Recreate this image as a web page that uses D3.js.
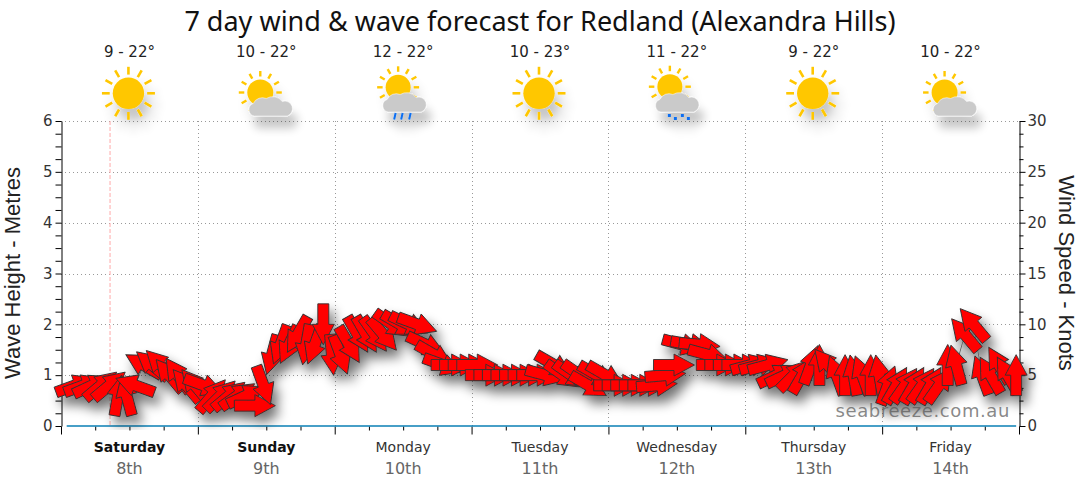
<!DOCTYPE html>
<html>
<head>
<meta charset="utf-8">
<script src="https://cdn.jsdelivr.net/npm/d3@7"></script>
<style>
  html, body { margin: 0; padding: 0; background: #fff; }
  svg { display: block; }
</style>
</head>
<body>
<svg id="chart"></svg>
<script>
// Labels
const dayNames = ["Saturday", "Sunday", "Monday", "Tuesday", "Wednesday", "Thursday", "Friday"];
const dayDates = ["8th", "9th", "10th", "11th", "12th", "13th", "14th"];
const boldDays = ["Saturday", "Sunday"];
const tempLabels = ["9 - 22°", "10 - 22°", "12 - 22°", "10 - 23°", "11 - 22°", "9 - 22°", "10 - 22°"];
const dayIcons = ["sun", "partly", "rain", "sun", "showers", "sun", "partly"];

// Wind speed (knots) and the way each arrow points (degrees clockwise from north)
const windSpeed = [
  4, 4, 4, 4, 4, 3, 3, 4, 6, 6, 6, 5, 5, 4, 4,
  4, 3, 3, 3, 3, 3, 2, 4, 7, 8, 8, 9, 8, 8, 10,
  7, 7, 8, 9, 9, 9, 9, 10, 10, 10, 10, 8, 7, 6, 6,
  6, 6, 6, 5, 5, 5, 5, 5, 5, 5, 5, 6, 5, 5, 5,
  4, 5, 5, 4, 4, 4, 4, 4, 4, 5, 6, 8, 8, 8, 7,
  6, 6, 6, 6, 6, 6, 6, 5, 5, 5, 5, 6, 6, 6, 5,
  5, 5, 5, 5, 5, 4, 4, 4, 4, 4, 4, 4, 6, 6, 9,
  10, 5, 5, 6, 5, 5
];
const windDir = [
  70, 70, 65, 50, 50, 10, 345, 290, 300, 310, 315, 320, 325, 320, 320,
  110, 40, 45, 50, 55, 65, 90, 160, 195, 200, 205, 210, 190, 200, 180,
  175, 160, 150, 150, 150, 145, 140, 125, 120, 115, 110, 115, 120, 110, 90,
  90, 90, 90, 90, 90, 90, 90, 90, 90, 90, 105, 120, 125, 125, 125,
  120, 120, 120, 90, 90, 90, 90, 90, 85, 85, 90, 105, 100, 95, 105,
  90, 90, 90, 90, 75, 75, 75, 65, 65, 45, 30, 20, 0, 320, 340,
  0, 350, 340, 0, 350, 20, 30, 35, 30, 35, 30, 35, 0, 345, 320,
  320, 340, 330, 330, 330, 0
];
// Wave height (metres), one more reading than the wind at the start
const waveHeight = [
  0, 0, 0, 0, 0, 0, 0, 0, 0, 0, 0, 0, 0, 0, 0, 0,
  0, 0, 0, 0, 0, 0, 0, 0, 0, 0, 0, 0, 0, 0, 0, 0,
  0, 0, 0, 0, 0, 0, 0, 0, 0, 0, 0, 0, 0, 0, 0, 0,
  0, 0, 0, 0, 0, 0, 0, 0, 0, 0, 0, 0, 0, 0, 0, 0,
  0, 0, 0, 0, 0, 0, 0, 0, 0, 0, 0, 0, 0, 0, 0, 0,
  0, 0, 0, 0, 0, 0, 0, 0, 0, 0, 0, 0, 0, 0, 0, 0,
  0, 0, 0, 0, 0, 0, 0, 0, 0, 0, 0, 0, 0, 0, 0, 0
];
const forecastHours = d3.range(1, 168, 1.5);
const nowHour = 8.6;

// Chart Dimensions
const Width = 1080;
const Height = 490;
const Left = 61;
const Right = 1019;
const Top = 121;
const Bottom = 426;
const DayHours = 24;

const svg = d3.select("#chart").attr("width", Width).attr("height", Height);

const xScale = d3.scaleLinear().domain([0, 168]).range([Left, Right]);
const waveScale = d3.scaleLinear().domain([0, 6]).range([Bottom, Top]);
const windScale = d3.scaleLinear().domain([0, 30]).range([Bottom, Top]);

// Shadows
const defs = svg.append("defs");
const arrowShadow = defs.append("filter").attr("id", "arrowShadow")
  .attr("filterUnits", "userSpaceOnUse")
  .attr("x", 0).attr("y", 280).attr("width", Width).attr("height", 150);
arrowShadow.append("feGaussianBlur").attr("in", "SourceAlpha").attr("stdDeviation", 6);
arrowShadow.append("feOffset").attr("dx", 5).attr("dy", 8).attr("result", "off");
arrowShadow.append("feComponentTransfer").append("feFuncA").attr("type", "linear").attr("slope", 0.55);
const arrowMerge = arrowShadow.append("feMerge");
arrowMerge.append("feMergeNode");
arrowMerge.append("feMergeNode").attr("in", "SourceGraphic");

const iconShadow = defs.append("filter").attr("id", "iconShadow")
  .attr("x", "-30%").attr("y", "-30%").attr("width", "170%").attr("height", "190%");
iconShadow.append("feGaussianBlur").attr("in", "SourceAlpha").attr("stdDeviation", 5);
iconShadow.append("feOffset").attr("dx", 5).attr("dy", 12);
iconShadow.append("feComponentTransfer").append("feFuncA").attr("type", "linear").attr("slope", 0.22);
const iconMerge = iconShadow.append("feMerge");
iconMerge.append("feMergeNode");
iconMerge.append("feMergeNode").attr("in", "SourceGraphic");

// Grid
const dayTicks = d3.range(0, 169, DayHours);
const grid = svg.append("g").attr("stroke", "#999").attr("stroke-dasharray", "1,3").attr("stroke-width", 1);
grid.selectAll(".h").data(d3.range(1, 7)).enter().append("line")
  .attr("x1", Left).attr("x2", Right)
  .attr("y1", d => Math.round(waveScale(d)) + 0.5).attr("y2", d => Math.round(waveScale(d)) + 0.5);
grid.selectAll(".v").data(dayTicks.slice(1, -1)).enter().append("line")
  .attr("x1", d => Math.round(xScale(d)) + 0.5).attr("x2", d => Math.round(xScale(d)) + 0.5)
  .attr("y1", Top).attr("y2", Bottom);

// Current time marker
svg.append("line")
  .attr("x1", xScale(nowHour)).attr("x2", xScale(nowHour))
  .attr("y1", Top).attr("y2", Bottom)
  .attr("stroke", "#ffaaaa").attr("stroke-dasharray", "4,2");

// Axes
function styleAxis(g) {
  g.select(".domain").attr("stroke", "#000");
  g.selectAll("line").attr("stroke", "#000");
  g.selectAll("text").attr("fill", "#333").style("font-family", "'DejaVu Sans'").style("font-size", "15px");
}
const leftAxis = svg.append("g").attr("transform", `translate(${Left + 0.5},0)`)
  .call(d3.axisLeft(waveScale).tickValues(d3.range(0, 6.01, 0.25)).tickSize(6).tickSizeOuter(0)
    .tickFormat(d => Number.isInteger(d) ? d : ""))
  .call(styleAxis);
leftAxis.selectAll("text").attr("x", -9);

const rightAxis = svg.append("g").attr("transform", `translate(${Right + 0.5},0)`)
  .call(d3.axisRight(windScale).tickValues(d3.range(0, 30.01, 1.25)).tickSize(4).tickSizeOuter(0)
    .tickFormat(d => d % 5 === 0 ? d : ""))
  .call(styleAxis);
rightAxis.selectAll(".tick").filter(d => d % 5 === 0).select("line").attr("x2", 6);
rightAxis.selectAll("text").attr("x", 8);

const bottomAxis = svg.append("g").attr("transform", `translate(0,${Bottom + 0.5})`)
  .call(d3.axisBottom(xScale).tickValues(d3.range(0, 169, 6)).tickSize(4).tickSizeOuter(0).tickFormat(""))
  .call(styleAxis);
bottomAxis.select(".domain").attr("stroke", "none");
bottomAxis.selectAll(".tick").filter(d => d % DayHours === 0).select("line").attr("y2", 8);

// Day labels
const dayCentres = dayNames.map((d, i) => xScale(DayHours * i + DayHours / 2));
svg.selectAll(".dayName").data(dayNames).enter().append("text")
  .attr("x", (d, i) => dayCentres[i]).attr("y", 452)
  .attr("text-anchor", "middle")
  .style("font-family", "'DejaVu Sans'").style("font-size", "14px")
  .style("font-weight", d => boldDays.includes(d) ? "bold" : "normal")
  .attr("fill", d => boldDays.includes(d) ? "#111" : "#333")
  .text(d => d);
svg.selectAll(".dayDate").data(dayDates).enter().append("text")
  .attr("x", (d, i) => dayCentres[i]).attr("y", 474)
  .attr("text-anchor", "middle")
  .style("font-family", "'DejaVu Sans'").style("font-size", "16px")
  .attr("fill", "#666")
  .text(d => d);

// Titles
svg.append("text").attr("x", 540).attr("y", 31).attr("text-anchor", "middle")
  .style("font-family", "'Noto Sans'").style("font-size", "27px").attr("fill", "#111")
  .text("7 day wind & wave forecast for Redland (Alexandra Hills)");
svg.append("text").attr("transform", "translate(20,273) rotate(-90)").attr("text-anchor", "middle")
  .style("font-family", "'Liberation Sans'").style("font-size", "22px").attr("fill", "#222")
  .text("Wave Height - Metres");
svg.append("text").attr("transform", "translate(1059,273) rotate(90)").attr("text-anchor", "middle")
  .style("font-family", "'Liberation Sans'").style("font-size", "22px").attr("fill", "#222")
  .text("Wind Speed - Knots");

// Temperatures
svg.selectAll(".temp").data(tempLabels).enter().append("text")
  .attr("x", (d, i) => dayCentres[i]).attr("y", 57).attr("text-anchor", "middle")
  .style("font-family", "'DejaVu Sans'").style("font-size", "15px").attr("fill", "#222")
  .text(d => d);

// Weather icons
function drawSun(g, cx, cy, r, longRay, shortRay) {
  const rays = d3.range(0, 360, 30);
  g.selectAll(null).data(rays).enter().append("line")
    .attr("x1", d => cx + (r + 3) * Math.sin(d * Math.PI / 180))
    .attr("y1", d => cy - (r + 3) * Math.cos(d * Math.PI / 180))
    .attr("x2", d => cx + (d % 60 === 0 ? longRay : shortRay) * Math.sin(d * Math.PI / 180))
    .attr("y2", d => cy - (d % 60 === 0 ? longRay : shortRay) * Math.cos(d * Math.PI / 180))
    .attr("stroke", "#ffc704").attr("stroke-width", r > 14 ? 2.6 : 2.4);
  g.append("circle").attr("cx", cx).attr("cy", cy).attr("r", r).attr("fill", "#ffc704");
}
function drawCloud(g, x, y) {
  // x, y is the lower left corner of a 44 x 26 cloud
  g.append("path")
    .attr("d", `M${x + 6},${y} a6.5,6.5 0 0 1 -1,-12.5 a10,10 0 0 1 13,-5 a12,12 0 0 1 16,3
      a7.5,7.5 0 0 1 5,14.5 z`)
    .attr("fill", "#cacaca").attr("stroke", "#ffffff").attr("stroke-width", 0.5);
}
const icons = svg.selectAll(".icon").data(dayIcons).enter().append("g")
  .attr("filter", "url(#iconShadow)");
icons.each(function(kind, i) {
  const g = d3.select(this);
  const cx = dayCentres[i];
  if (kind === "sun") {
    drawSun(g, cx - 1, 93.3, 15.7, 26.5, 26.5);
  } else if (kind === "partly") {
    drawSun(g, cx - 6, 92.5, 13, 21.5, 21.5);
    drawCloud(g, cx - 18, 116);
  } else if (kind === "rain") {
    drawSun(g, cx - 5, 87.3, 12.5, 21, 21);
    drawCloud(g, cx - 21, 112);
    g.selectAll(null).data([-7, 0, 8]).enter().append("line")
      .attr("x1", d => cx + d - 0.5).attr("x2", d => cx + d - 2)
      .attr("y1", 113).attr("y2", 119.5)
      .attr("stroke", "#0b6ef0").attr("stroke-width", 2);
  } else {
    drawSun(g, cx - 7, 86.7, 12.5, 21, 21);
    drawCloud(g, cx - 22, 112);
    g.selectAll(null).data([[-9, 114], [-3, 117], [4, 114], [10, 117]]).enter().append("rect")
      .attr("x", d => cx + d[0]).attr("y", d => d[1])
      .attr("width", 3).attr("height", 3).attr("fill", "#0b6ef0");
  }
});

// Wave height line
const waveLine = d3.line().x((d, i) => xScale(forecastHours[i])).y(d => waveScale(d));
svg.append("path").datum(waveHeight)
  .attr("d", waveLine)
  .attr("fill", "none").attr("stroke", "#0a7fb5").attr("stroke-width", 1.6);

// Wind line and arrows
const windHours = forecastHours.slice(1);
const windGroup = svg.append("g").attr("filter", "url(#arrowShadow)");
const windLine = d3.line().x((d, i) => xScale(windHours[i])).y(d => windScale(d));
windGroup.append("path").datum(windSpeed)
  .attr("d", windLine)
  .attr("fill", "none").attr("stroke", "#666").attr("stroke-width", 1);

const ArrowPath = "M-5.5,20.5 L-5.5,0 L-11,0 L0,-20.5 L11,0 L5.5,0 L5.5,20.5 Z";
windGroup.selectAll(".arrow").data(windSpeed).enter().append("path")
  .attr("class", "arrow")
  .attr("d", ArrowPath)
  .attr("transform", (d, i) => `translate(${xScale(windHours[i])},${windScale(d)}) rotate(${windDir[i]})`)
  .attr("fill", "#ff0000").attr("stroke", "#333").attr("stroke-width", 0.9);

// Watermark
svg.append("text").attr("x", 1010).attr("y", 417).attr("text-anchor", "end")
  .style("font-family", "'DejaVu Sans'").style("font-size", "18px").style("letter-spacing", "0.6px")
  .attr("fill", "#555").attr("fill-opacity", 0.7)
  .text("seabreeze.com.au");
</script>
</body>
</html>
